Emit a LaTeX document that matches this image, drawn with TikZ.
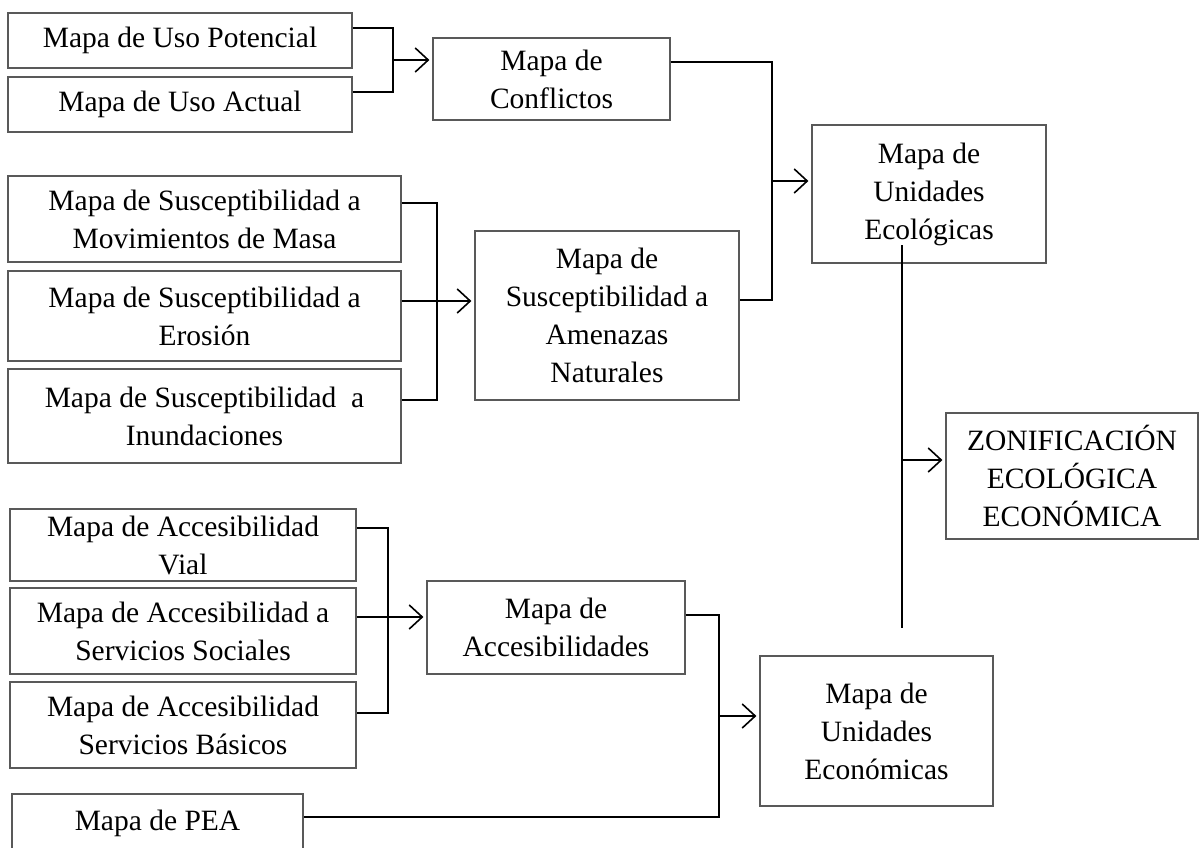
\documentclass[tikz,border=0pt]{standalone}
\usepackage{fontspec}
\setmainfont{Liberation Serif}
\usetikzlibrary{arrows.meta}
\begin{document}
\begin{tikzpicture}[x=1pt,y=-1pt,
  box/.style={draw=black!65, line width=1.2pt, align=center, inner sep=0pt,
    font=\fontsize{29.5}{38}\selectfont},
  conn/.style={line width=2pt, black},
  arr/.style={line width=1.6pt, -{Straight Barb[length=13pt,width=24pt]}, shorten >=3pt}]
\useasboundingbox (0,0) rectangle (1199,848);

% --- boxes
\node[box,minimum width=344pt,minimum height=55pt] (pot) at (180,40.5) {Mapa de Uso Potencial};
\node[box,minimum width=344pt,minimum height=55pt] (act) at (180,104.5) {Mapa de Uso Actual};
\node[box,minimum width=237pt,minimum height=82pt] (conf) at (551.5,79) {Mapa de\\Conflictos};
\node[box,minimum width=234pt,minimum height=138pt] (eco) at (929,194) {Mapa de\\Unidades\\Ecológicas};
\node[box,minimum width=393pt,minimum height=86pt] (mov) at (204.5,219) {Mapa de Susceptibilidad a\\Movimientos de Masa};
\node[box,minimum width=393pt,minimum height=90pt] (ero) at (204.5,316) {Mapa de Susceptibilidad a\\Erosión};
\node[box,minimum width=393pt,minimum height=94pt] (inu) at (204.5,416) {Mapa de Susceptibilidad~ a\\Inundaciones};
\node[box,minimum width=264pt,minimum height=169pt] (ame) at (607,315.5) {Mapa de\\Susceptibilidad a\\Amenazas\\Naturales};
\node[box,minimum width=252pt,minimum height=126pt] (zon) at (1072,476) {ZONIFICACIÓN\\ECOLÓGICA\\ECONÓMICA};
\node[box,minimum width=346pt,minimum height=72pt] (vial) at (183,545) {Mapa de Accesibilidad\\Vial};
\node[box,minimum width=346pt,minimum height=86pt] (soc) at (183,631) {Mapa de Accesibilidad a\\Servicios Sociales};
\node[box,minimum width=346pt,minimum height=86pt] (bas) at (183,725) {Mapa de Accesibilidad\\Servicios Básicos};
\node[box,minimum width=258pt,minimum height=93pt] (acc) at (556,627.5) {Mapa de\\Accesibilidades};
\node[box,minimum width=233pt,minimum height=150pt] (econ) at (876.5,731) {Mapa de\\Unidades\\Económicas};
\node[box,minimum width=291pt,minimum height=58pt] (pea) at (157.5,823) {Mapa de PEA};

% --- junction coordinates
\coordinate (j1) at (393,60);
\coordinate (j2) at (437,301);
\coordinate (j3) at (772,181);
\coordinate (j4) at (902,460);
\coordinate (j5) at (388,617);
\coordinate (j6) at (719,716);
\coordinate (ecod) at (902,245);
\coordinate (ecoe) at (902,628);

% --- group 1
\draw[conn] ([yshift=12.5pt]pot.east) -- (j1 |- 0,28) -- (j1 |- 0,92) -- ([yshift=12.5pt]act.east);
\draw[arr] (j1) -- (conf.west |- j1);

% --- group 2
\draw[conn] ([yshift=16pt]mov.east) -- (j2 |- 0,203) -- (j2 |- 0,400) -- ([yshift=16pt]inu.east);
\draw[arr] (ero.east |- j2) -- (ame.west |- j2);

% --- to ecological units
\draw[conn] ([yshift=17pt]conf.east) -- (j3 |- 0,62) -- (j3 |- 0,300) -- ([yshift=15.5pt]ame.east);
\draw[arr] (j3) -- (eco.west |- j3);

% --- to zonification
\draw[conn] (ecod) -- (ecoe);
\draw[arr] (j4) -- (zon.west |- j4);

% --- group 3
\draw[conn] ([yshift=17pt]vial.east) -- (j5 |- 0,528) -- (j5 |- 0,713) -- ([yshift=12pt]bas.east);
\draw[arr] (soc.east |- j5) -- (acc.west |- j5);

% --- to economic units
\draw[conn] ([yshift=12.5pt]acc.east) -- (j6 |- 0,615) -- (j6 |- 0,817) -- ([yshift=6pt]pea.east);
\draw[arr] (j6) -- (econ.west |- j6);
\end{tikzpicture}
\end{document}
